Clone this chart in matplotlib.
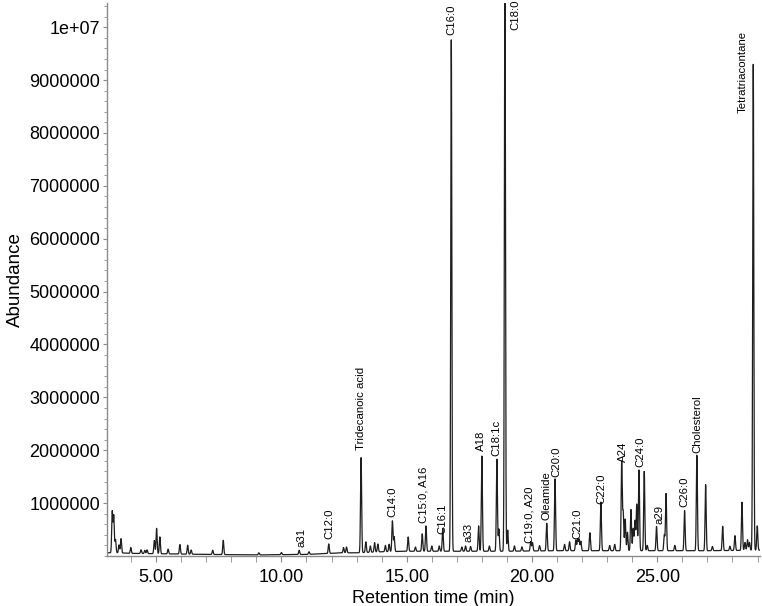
import numpy as np
import matplotlib
matplotlib.use("Agg")
import matplotlib.pyplot as plt
from matplotlib import font_manager
from matplotlib.ticker import MultipleLocator

plt.rcParams['font.family'] = ['Liberation Sans', 'DejaVu Sans']

# retention time (min) and abundance of the peaks
peak_rt = [3.25, 3.31, 3.38, 3.52, 3.60, 3.99, 4.40, 4.55, 4.64, 4.93, 5.02, 5.15,
           5.48, 5.95, 6.26, 6.40, 7.26, 7.68, 9.10, 10.00, 10.71, 11.10, 11.89,
           12.48, 12.60, 13.18, 13.37, 13.55, 13.72, 13.85, 14.15, 14.30, 14.43,
           14.50, 15.06, 15.35, 15.62, 15.77, 16.00, 16.30, 16.44, 16.78, 17.20,
           17.35, 17.55, 17.87, 18.00, 18.30, 18.60, 18.68, 18.92, 19.03, 19.30,
           19.60, 19.95, 20.02, 20.30, 20.59, 20.92, 21.30, 21.50, 21.75, 21.82,
           21.88, 21.95, 22.31, 22.75, 23.10, 23.30, 23.58, 23.64, 23.72, 23.81,
           23.95, 24.04, 24.11, 24.18, 24.27, 24.48, 24.60, 24.97, 25.28, 25.35,
           25.70, 26.09, 26.58, 26.93, 27.20, 27.61, 27.90, 28.10, 28.38, 28.50,
           28.60, 28.68, 28.83, 28.99]
peak_abund = [780000, 700000, 250000, 150000, 270000, 110000, 70000, 60000, 70000,
              250000, 480000, 320000, 90000, 180000, 170000, 80000, 80000, 270000,
              40000, 40000, 80000, 50000, 180000, 100000, 110000, 1800000, 200000,
              120000, 180000, 150000, 120000, 140000, 580000, 280000, 270000,
              80000, 330000, 480000, 100000, 100000, 430000, 9690000, 80000,
              100000, 90000, 480000, 1800000, 100000, 1740000, 420000, 11000000,
              400000, 100000, 80000, 180000, 160000, 100000, 520000, 1360000,
              120000, 170000, 200000, 220000, 220000, 180000, 340000, 920000,
              100000, 120000, 1680000, 720000, 600000, 350000, 780000, 420000,
              570000, 880000, 1530000, 1500000, 100000, 460000, 300000, 1080000,
              100000, 760000, 1810000, 1250000, 80000, 460000, 80000, 280000,
              910000, 150000, 200000, 150000, 9190000, 460000]

# baseline level under the peaks
baseline_rt = [3.04, 3.5, 4.0, 5.5, 7.0, 9.0, 11.0, 12.4, 13.0, 14.0, 15.0, 17.0,
               19.0, 21.0, 23.0, 25.0, 27.0, 29.1]
baseline_abund = [60000, 60000, 50000, 40000, 30000, 20000, 30000, 60000, 60000,
                  80000, 90000, 90000, 90000, 100000, 100000, 100000, 100000, 110000]

# peak names: label, retention time, abundance at bottom of label
peak_names = ["a31", "C12:0", "Tridecanoic acid", "C14:0", "C15:0, A16", "C16:1",
              "C16:0", "a33", "A18", "C18:1c", "C18:0", "C19:0, A20", "Oleamide",
              "C20:0", "C21:0", "C22:0", "A24", "C24:0", "a29", "C26:0",
              "Cholesterol", "Tetratriacontane"]
name_rt = [10.81, 11.91, 13.18, 14.43, 15.66, 16.42, 16.80, 17.46, 17.96, 18.59,
           19.32, 19.92, 20.59, 20.96, 21.82, 22.75, 23.64, 24.31, 25.08, 26.08,
           26.60, 28.42]
name_y = [176000, 320000, 2000000, 730000, 630000, 420000, 9850000, 260000,
          1980000, 1890000, 9940000, 250000, 680000, 1490000, 320000, 980000,
          1780000, 1680000, 600000, 930000, 1950000, 8370000]

y_ticks = [1000000, 2000000, 3000000, 4000000, 5000000, 6000000, 7000000,
           8000000, 9000000, 10000000]
y_tick_labels = ["1000000", "2000000", "3000000", "4000000", "5000000", "6000000",
                 "7000000", "8000000", "9000000", "1e+07"]
x_ticks = [5, 10, 15, 20, 25]
x_tick_labels = ["5.00", "10.00", "15.00", "20.00", "25.00"]


def build_trace(t):
    y = np.interp(t, baseline_rt, baseline_abund)
    for rt, h in zip(peak_rt, peak_abund):
        y = y + h * np.exp(-0.5 * ((t - rt) / 0.022) ** 2)
    return y


# the peak names use a narrow face when there is one
installed = set(f.name for f in font_manager.fontManager.ttflist)
if "Liberation Sans Narrow" in installed:
    name_font = ["Liberation Sans Narrow", "Liberation Sans"]
    name_size = 9.5
else:
    name_font = ["Liberation Sans", "DejaVu Sans"]
    name_size = 8.2

fig = plt.figure(figsize=(7.62, 6.06), dpi=100)
ax = fig.add_axes([0.1404, 0.0825, 0.857, 0.9125])

t = np.linspace(3.04, 29.1, 8000)
ax.plot(t, build_trace(t), color="#1e1e1e", lw=0.9)

for name, x, y in zip(peak_names, name_rt, name_y):
    ax.text(x, y, name, rotation=90, ha="center", va="bottom",
            fontsize=name_size, family=name_font)

ax.set_xlim(3.04, 29.1)
ax.set_ylim(0, 10457000)

ax.set_xticks(x_ticks)
ax.set_xticklabels(x_tick_labels)
ax.set_yticks(y_ticks)
ax.set_yticklabels(y_tick_labels)
ax.xaxis.set_minor_locator(MultipleLocator(1))
ax.yaxis.set_minor_locator(MultipleLocator(200000))

for s in ["top", "right"]:
    ax.spines[s].set_visible(False)
for s in ["left", "bottom"]:
    ax.spines[s].set_color("#8a8a8a")
    ax.spines[s].set_linewidth(1.0)

ax.tick_params(which="both", colors="#8a8a8a", labelcolor="black", labelsize=13)
ax.tick_params(axis="x", which="major", length=4, pad=5)
ax.tick_params(axis="x", which="minor", length=4)
ax.tick_params(axis="y", which="major", length=3, pad=2)
ax.tick_params(axis="y", which="minor", length=2)

ax.set_xlabel("Retention time (min)", fontsize=13, labelpad=3)
ax.set_ylabel("Abundance", fontsize=13.5, labelpad=4)

fig.savefig("out.png", dpi=100)
